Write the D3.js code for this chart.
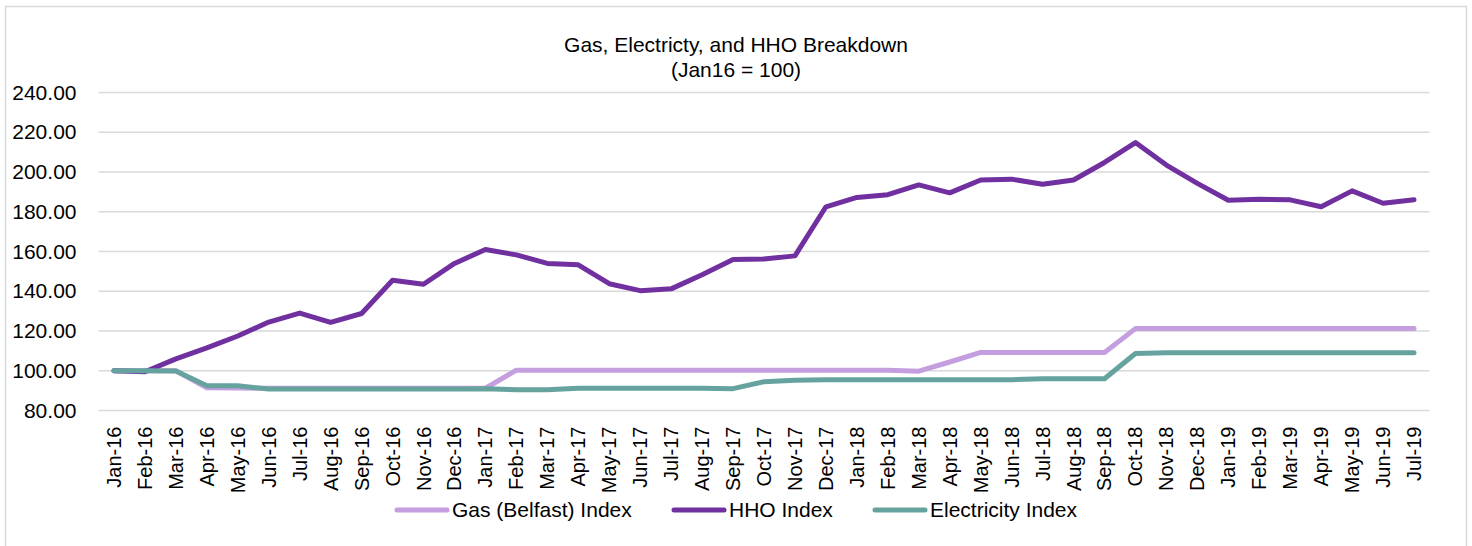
<!DOCTYPE html>
<html>
<head>
<meta charset="utf-8">
<script src="https://cdn.jsdelivr.net/npm/d3@7"></script>
<style>
  body { margin: 0; background: #fff; }
  text { font-family: "Liberation Sans", Arial, sans-serif; fill: #000; }
</style>
</head>
<body>
<div id="chart"></div>
<script>
// data
const months = ['Jan-16','Feb-16','Mar-16','Apr-16','May-16','Jun-16','Jul-16','Aug-16','Sep-16','Oct-16','Nov-16','Dec-16',
  'Jan-17','Feb-17','Mar-17','Apr-17','May-17','Jun-17','Jul-17','Aug-17','Sep-17','Oct-17','Nov-17','Dec-17',
  'Jan-18','Feb-18','Mar-18','Apr-18','May-18','Jun-18','Jul-18','Aug-18','Sep-18','Oct-18','Nov-18','Dec-18',
  'Jan-19','Feb-19','Mar-19','Apr-19','May-19','Jun-19','Jul-19'];
const gasIndex = [100,100,100,91.4,91.3,91.2,91.2,91.2,91.2,91.2,91.2,91.2,
  91.2,100.3,100.3,100.3,100.3,100.3,100.3,100.3,100.3,100.3,100.3,100.3,
  100.3,100.3,99.8,104.4,109.2,109.2,109.2,109.2,109.2,121.2,121.2,121.2,
  121.2,121.2,121.2,121.2,121.2,121.2,121.2];
const hhoIndex = [100,99.5,106,111.5,117.5,124.5,129,124.3,128.8,145.5,143.5,154,
  161,158.3,154,153.3,143.8,140.3,141.2,148.3,156,156.2,157.8,182.5,
  187.2,188.6,193.5,189.5,196,196.4,193.8,196,204.8,214.8,203.5,194.3,
  185.8,186.3,186,182.5,190.5,184.3,186];
const elecIndex = [100,100,99.9,92.5,92.4,90.8,90.8,90.8,90.8,90.8,90.8,90.8,
  91,90.4,90.4,91.2,91.2,91.2,91.2,91.2,91,94.5,95.2,95.5,
  95.5,95.5,95.5,95.5,95.5,95.5,96,96,96,108.7,109,109,
  109,109,109,109,109,109,109];
const yTicks = [80,100,120,140,160,180,200,220,240];
const seriesNames = ['Gas (Belfast) Index','HHO Index','Electricity Index'];

// chart static params
const width = 1472, height = 546;
const colors = ['#C59EDF', '#7030A0', '#66A39F'];
const plotLeft = 98.5, plotRight = 1429.5, plotTop = 92.5, plotBottom = 410.5;

const svg = d3.select('#chart')
  .append('svg')
    .attr('width', width)
    .attr('height', height);

// outer frame
svg.append('rect')
  .attr('x', 5.5).attr('y', 6.5)
  .attr('width', 1461).attr('height', 560)
  .attr('fill', 'none')
  .attr('stroke', '#D9D9D9')
  .attr('stroke-width', 1.5);

const x = d3.scaleBand()
  .domain(months)
  .range([plotLeft, plotRight]);
const y = d3.scaleLinear()
  .domain([80, 240])
  .range([plotBottom, plotTop]);

// gridlines
svg.append('g')
  .selectAll('line')
  .data(yTicks)
  .join('line')
    .attr('x1', plotLeft).attr('x2', plotRight)
    .attr('y1', d => y(d)).attr('y2', d => y(d))
    .attr('stroke', '#D9D9D9')
    .attr('stroke-width', 1.5);

// y labels
const yAxis = svg.append('g')
  .attr('transform', `translate(${plotLeft - 22},0)`)
  .call(d3.axisLeft(y).tickValues(yTicks).tickFormat(d3.format('.2f')).tickSize(0));
yAxis.select('.domain').remove();
yAxis.selectAll('text')
  .attr('x', 0)
  .style('font-size', '21px')
  .style('font-family', '"Liberation Sans", Arial, sans-serif')
  .attr('fill', '#000');

// x labels
const xAxis = svg.append('g')
  .attr('transform', `translate(0,${plotBottom})`)
  .call(d3.axisBottom(x).tickSize(0));
xAxis.select('.domain').remove();
xAxis.selectAll('text')
  .attr('transform', 'rotate(-90)')
  .attr('text-anchor', 'end')
  .attr('x', -16)
  .attr('y', 0)
  .attr('dy', '0.35em')
  .style('font-size', '20px')
  .style('font-family', '"Liberation Sans", Arial, sans-serif')
  .attr('fill', '#000');

// lines
const line = d3.line()
  .x((d, i) => x(months[i]) + x.bandwidth() / 2)
  .y(d => y(d));

[gasIndex, hhoIndex, elecIndex].forEach((s, i) => {
  svg.append('path')
    .datum(s)
    .attr('fill', 'none')
    .attr('stroke', colors[i])
    .attr('stroke-width', 5)
    .attr('stroke-linejoin', 'round')
    .attr('stroke-linecap', 'round')
    .attr('d', line);
});

// title
svg.append('text')
  .attr('x', 736).attr('y', 52)
  .attr('text-anchor', 'middle')
  .style('font-size', '21px')
  .text('Gas, Electricty, and HHO Breakdown');
svg.append('text')
  .attr('x', 736).attr('y', 77)
  .attr('text-anchor', 'middle')
  .style('font-size', '21px')
  .text('(Jan16 = 100)');

// legend
const legendX = [395, 672, 873];
const legend = svg.append('g');
seriesNames.forEach((name, i) => {
  legend.append('line')
    .attr('x1', legendX[i] + 2).attr('x2', legendX[i] + 52)
    .attr('y1', 510).attr('y2', 510)
    .attr('stroke', colors[i])
    .attr('stroke-width', 5)
    .attr('stroke-linecap', 'round');
  legend.append('text')
    .attr('x', legendX[i] + 57).attr('y', 510)
    .attr('dy', '0.35em')
    .style('font-size', '21px')
    .text(name);
});
</script>
</body>
</html>
